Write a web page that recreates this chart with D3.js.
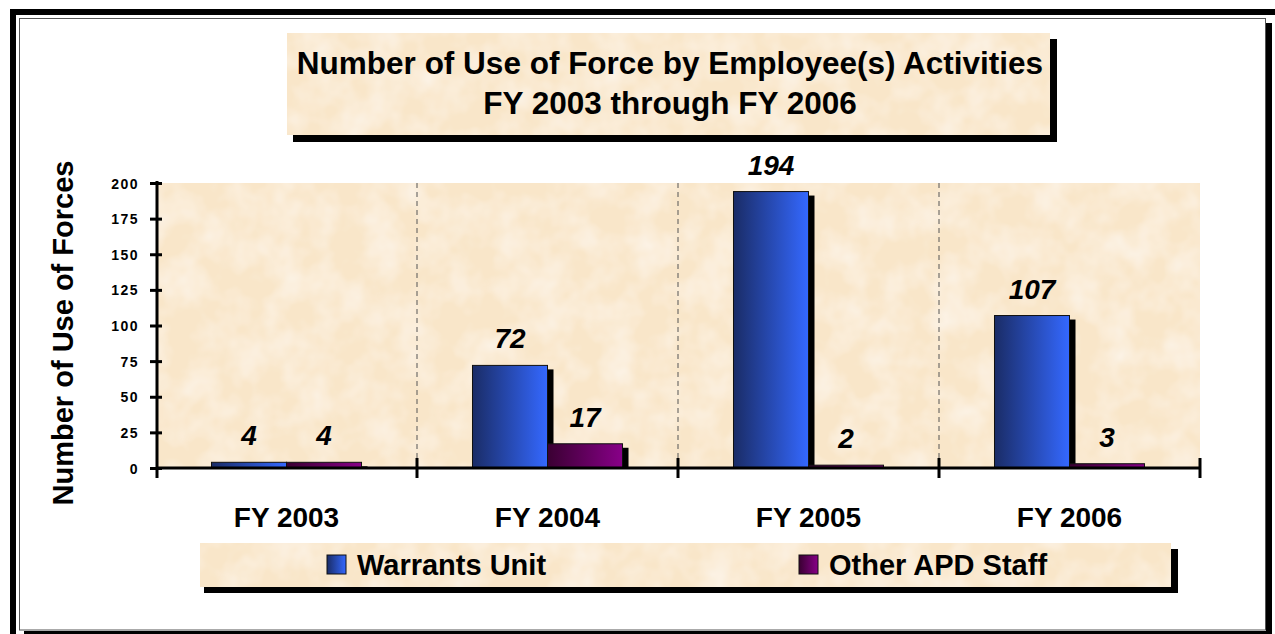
<!DOCTYPE html>
<html lang="en">
  <head>
    <meta charset="utf-8">
    <title>Number of Use of Force by Employee(s) Activities</title>
    <script src="https://d3js.org/d3.v7.min.js"></script>
    <style>
      body { margin: 0; background: #fff; }
      text { font-family: "Liberation Sans", Arial, sans-serif; font-weight: bold; fill: #000; }
    </style>
  </head>

  <body>
    <svg id="chart" width="1275" height="634"></svg>
    <script type="text/javascript">

      // data
      var categories = ["FY 2003", "FY 2004", "FY 2005", "FY 2006"];
      var series = ["Warrants Unit", "Other APD Staff"];
      var warrantsUnit = [4, 72, 194, 107];
      var otherApdStaff = [4, 17, 2, 3];
      var yTicks = [0, 25, 50, 75, 100, 125, 150, 175, 200];
      var titleLines = ["Number of Use of Force by Employee(s) Activities", "FY 2003 through FY 2006"];
      var yTitle = "Number of Use of Forces";

      var svg = d3.select("#chart");
      var defs = svg.append("defs");

      // parchment look (light mottling)
      var f = defs.append("filter").attr("id", "paper")
        .attr("x", 0).attr("y", 0).attr("width", "100%").attr("height", "100%");
      f.append("feTurbulence").attr("type", "fractalNoise").attr("baseFrequency", "0.03")
        .attr("numOctaves", 3).attr("seed", 4).attr("result", "noise");
      f.append("feColorMatrix").attr("in", "noise").attr("type", "matrix")
        .attr("values", "0 0 0 0 1  0 0 0 0 1  0 0 0 0 1  0.9 0 0 0 -0.32").attr("result", "spots");
      f.append("feComposite").attr("in", "spots").attr("in2", "SourceGraphic").attr("operator", "in").attr("result", "clip");
      var fm = f.append("feMerge");
      fm.append("feMergeNode").attr("in", "SourceGraphic");
      fm.append("feMergeNode").attr("in", "clip");

      var grads = [
        { id: "gBlue", from: "#1a2c66", to: "#3468ff" },
        { id: "gPurple", from: "#3a0032", to: "#880088" }
      ];
      grads.forEach(function (g) {
        var lg = defs.append("linearGradient").attr("id", g.id)
          .attr("x1", "0%").attr("x2", "100%").attr("y1", "0%").attr("y2", "0%");
        lg.append("stop").attr("offset", "0%").attr("stop-color", g.from);
        lg.append("stop").attr("offset", "100%").attr("stop-color", g.to);
      });
      var color = d3.scaleOrdinal().domain(series).range(["url(#gBlue)", "url(#gPurple)"]);

      var beige = "#f9e6c9";

      // outer frame
      svg.append("rect").attr("x", 10).attr("y", 9).attr("width", 1265).attr("height", 6).attr("fill", "#000");
      svg.append("rect").attr("x", 10).attr("y", 9).attr("width", 6).attr("height", 625).attr("fill", "#000");
      svg.append("rect").attr("x", 1266).attr("y", 23).attr("width", 6).attr("height", 611).attr("fill", "#000");
      svg.append("rect").attr("x", 24).attr("y", 631).attr("width", 1248).attr("height", 3).attr("fill", "#000");
      svg.append("rect").attr("x", 19.5).attr("y", 18.5).attr("width", 1246).attr("height", 611.5)
        .attr("fill", "#fff").attr("stroke", "#555").attr("stroke-width", 1);

      // title box
      svg.append("rect").attr("x", 293).attr("y", 39).attr("width", 764).attr("height", 103).attr("fill", "#000");
      svg.append("rect").attr("x", 287).attr("y", 33).attr("width", 763).attr("height", 102)
        .attr("fill", beige).attr("filter", "url(#paper)");
      svg.append("g").selectAll("text").data(titleLines).join("text")
        .attr("x", 670).attr("y", function (d, i) { return 74 + i * 40; })
        .attr("text-anchor", "middle").style("font-size", "31.5px")
        .text(function (d) { return d; });

      // scales
      var x0 = d3.scaleBand().domain(categories).range([156, 1200]);
      var bw = x0.bandwidth();
      var x1 = d3.scaleBand().domain(series).range([bw * 0.2126, bw * 0.7874]);
      var y = d3.scaleLinear().domain([0, 200]).range([468, 183]);

      // plot area
      svg.append("rect").attr("x", 157).attr("y", y(200)).attr("width", 1200 - 157).attr("height", y(0) - y(200))
        .attr("fill", beige).attr("filter", "url(#paper)");

      // dashed separators
      svg.append("g").selectAll("line").data(categories.slice(1)).join("line")
        .attr("x1", function (d) { return x0(d); }).attr("x2", function (d) { return x0(d); })
        .attr("y1", y(200)).attr("y2", y(0))
        .attr("stroke", "#555").attr("stroke-width", 1).attr("stroke-dasharray", "5,4");

      // bars
      var rows = categories.map(function (c, i) {
        return { cat: c, vals: [
          { key: series[0], v: warrantsUnit[i] },
          { key: series[1], v: otherApdStaff[i] }
        ] };
      });
      var grp = svg.append("g").selectAll("g").data(rows).join("g")
        .attr("transform", function (d) { return "translate(" + x0(d.cat) + ",0)"; });

      grp.selectAll("rect.shadow").data(function (d) { return d.vals; }).join("rect")
        .attr("class", "shadow")
        .attr("x", function (d) { return x1(d.key) + 6; })
        .attr("y", function (d) { return y(d.v) + 4; })
        .attr("width", x1.bandwidth())
        .attr("height", function (d) { return Math.max(0, y(0) - y(d.v) - 4); })
        .attr("fill", "#000");

      grp.selectAll("rect.bar").data(function (d) { return d.vals; }).join("rect")
        .attr("class", "bar")
        .attr("x", function (d) { return x1(d.key); })
        .attr("y", function (d) { return y(d.v); })
        .attr("width", x1.bandwidth())
        .attr("height", function (d) { return y(0) - y(d.v); })
        .attr("fill", function (d) { return color(d.key); })
        .attr("stroke", "#111").attr("stroke-width", 1);

      grp.selectAll("text").data(function (d) { return d.vals; }).join("text")
        .attr("x", function (d) { return x1(d.key) + x1.bandwidth() / 2; })
        .attr("y", function (d) { return y(d.v) - 17; })
        .attr("text-anchor", "middle")
        .style("font-size", "28px").style("font-style", "italic")
        .text(function (d) { return d.v; });

      // y axis
      var yAxis = svg.append("g").attr("transform", "translate(157,0)")
        .call(d3.axisLeft(y).tickValues(yTicks).tickSizeOuter(0));
      yAxis.select(".domain").remove();
      yAxis.selectAll(".tick line").attr("x1", -7).attr("x2", 5).attr("stroke", "#000").attr("stroke-width", 3);
      yAxis.selectAll(".tick text").attr("x", -18).attr("dy", "0.36em")
        .style("font-size", "14px").style("font-family", "'Liberation Sans', Arial, sans-serif")
        .style("font-weight", "bold").attr("letter-spacing", "1.5px").attr("fill", "#000");
      svg.append("line").attr("x1", 157).attr("x2", 157).attr("y1", 181).attr("y2", 478)
        .attr("stroke", "#000").attr("stroke-width", 3);

      // x axis
      var xAxis = svg.append("g").attr("transform", "translate(0," + y(0) + ")")
        .call(d3.axisBottom(x0).tickSize(0).tickPadding(0));
      xAxis.select(".domain").remove();
      xAxis.selectAll(".tick text").attr("y", 59).attr("dy", 0)
        .style("font-size", "28px").style("font-family", "'Liberation Sans', Arial, sans-serif")
        .style("font-weight", "bold").attr("fill", "#000");
      svg.append("line").attr("x1", 156).attr("x2", 1201).attr("y1", y(0)).attr("y2", y(0))
        .attr("stroke", "#000").attr("stroke-width", 3);
      var edges = categories.map(function (c) { return x0(c); }).concat([x0.range()[1]]);
      svg.append("g").selectAll("line").data(edges.slice(1)).join("line")
        .attr("x1", function (d) { return d; }).attr("x2", function (d) { return d; })
        .attr("y1", y(0) - 10).attr("y2", y(0) + 10)
        .attr("stroke", "#000").attr("stroke-width", 3);

      // y title
      svg.append("text").attr("transform", "translate(73,333) rotate(-90)")
        .attr("text-anchor", "middle").style("font-size", "29px").text(yTitle);

      // legend
      svg.append("rect").attr("x", 204).attr("y", 549).attr("width", 974).attr("height", 44).attr("fill", "#000");
      svg.append("rect").attr("x", 200).attr("y", 543).attr("width", 971).attr("height", 44)
        .attr("fill", beige).attr("filter", "url(#paper)");
      var legendX = [327, 799];
      var lg = svg.append("g").selectAll("g").data(series).join("g")
        .attr("transform", function (d, i) { return "translate(" + legendX[i] + ",555)"; });
      lg.append("rect").attr("width", 19).attr("height", 19)
        .attr("fill", function (d) { return color(d); }).attr("stroke", "#111").attr("stroke-width", 1);
      lg.append("text").attr("x", 30).attr("y", 20).style("font-size", "29px")
        .text(function (d) { return d; });

    </script>
  </body>
</html>
